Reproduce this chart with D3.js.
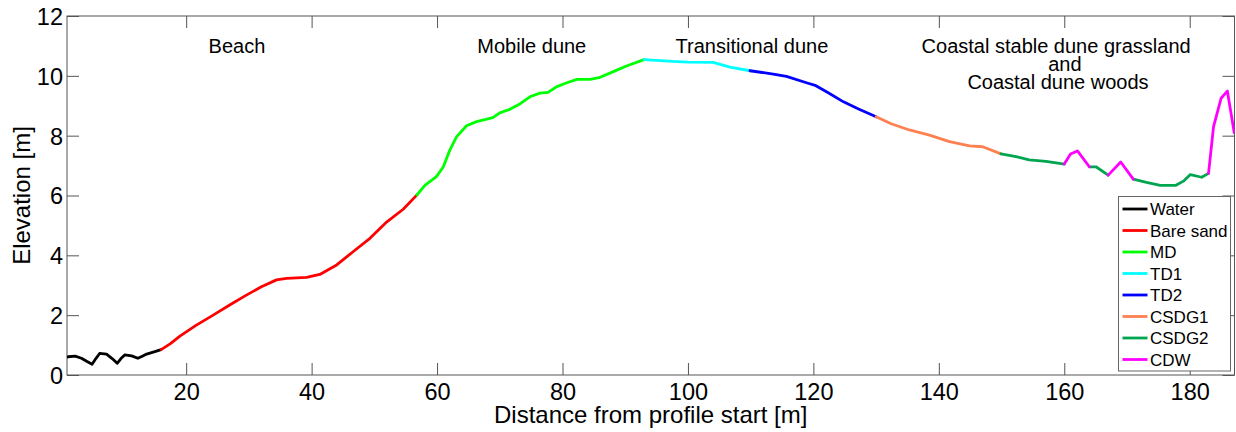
<!DOCTYPE html>
<html><head><meta charset="utf-8">
<script src="https://cdn.jsdelivr.net/npm/d3@7"></script>
<style>
body{margin:0;background:#fff}
svg{display:block;font-family:"Liberation Sans",Arial,sans-serif}
</style>
</head><body>
<svg id="c" width="1236" height="432"></svg>
<script>
// ---- data (distance [m], elevation [m]) ----
const water = [[1.0,0.60],[1.2,0.61],[2.3,0.63],[3.3,0.56],[4.2,0.45],[5.0,0.36],[5.6,0.55],[6.2,0.72],[7.3,0.70],[8.2,0.55],[9.0,0.39],[9.6,0.55],[10.2,0.67],[11.3,0.64],[12.3,0.56],[13.0,0.63],[13.7,0.70],[15.0,0.78],[16.0,0.85]];
const bareSand = [[16.0,0.85],[17.5,1.05],[19.0,1.30],[21.5,1.65],[24.3,2.00],[27.0,2.35],[29.6,2.67],[32.0,2.95],[34.4,3.18],[36.0,3.23],[39.2,3.26],[41.3,3.36],[44.0,3.68],[46.6,4.12],[49.3,4.57],[52.0,5.12],[54.6,5.54],[56.8,6.02]];
const md = [[56.8,6.02],[58.1,6.35],[59.9,6.63],[61.0,6.96],[62.0,7.50],[63.1,7.96],[64.7,8.33],[66.3,8.47],[68.9,8.60],[70.0,8.76],[71.6,8.88],[73.2,9.06],[74.8,9.30],[76.4,9.42],[77.7,9.45],[79.1,9.64],[80.7,9.77],[82.3,9.88],[84.4,9.88],[86.0,9.95],[88.1,10.14],[90.2,10.33],[93.0,10.54]];
const td1 = [[93.0,10.54],[97.6,10.48],[100.0,10.46],[104.0,10.45],[106.7,10.29],[109.9,10.17]];
const td2 = [[109.9,10.17],[113.6,10.06],[115.7,9.98],[118.9,9.77],[120.4,9.67],[122.3,9.44],[124.8,9.13],[127.2,8.89],[130.0,8.63]];
const csdg1 = [[130.0,8.63],[132.4,8.40],[135.3,8.19],[138.5,8.02],[141.7,7.80],[144.9,7.66],[147.0,7.63],[149.9,7.39]];
const csdg2 = [[149.9,7.39],[152.3,7.30],[154.4,7.19],[157.1,7.14],[160.0,7.05],null,[164.0,6.96],[165.05,6.96],[167.0,6.68],null,[171.0,6.55],[173.1,6.44],[175.3,6.34],[177.8,6.34],[179.0,6.48],[180.1,6.70],[181.9,6.61],[183.0,6.74]];
const cdw = [[160.0,7.05],[161.0,7.39],[162.1,7.49],[164.0,6.96],null,[167.0,6.68],[169.0,7.12],[171.0,6.55],null,[183.0,6.74],[183.8,8.30],[185.0,9.25],[186.0,9.49],[187.1,8.10]];

const seriesNames = ["Water","Bare sand","MD","TD1","TD2","CSDG1","CSDG2","CDW"];
const seriesColors = ["#000000","#ff0000","#00ff00","#00ffff","#0000ff","#ff8050","#00a550","#ff00ff"];
const seriesData = [water, bareSand, md, td1, td2, csdg1, csdg2, cdw];

const xTicks = [20,40,60,80,100,120,140,160,180];
const yTicks = [0,2,4,6,8,10,12];
const xDomain = [1, 187.14];
const yDomain = [0, 12];

const zoneLabels = ["Beach","Mobile dune","Transitional dune","Coastal stable dune grassland","and","Coastal dune woods"];
const zoneX = [28.1, 75.1, 110.2, 158.7, 160.1, 159.0];
const zoneLine = [0, 0, 0, 0, 1, 2];

// ---- layout ----
const L = 67, T = 16, R = 1234.5, B = 375;
const svg = d3.select("#c");
const x = d3.scaleLinear().domain(xDomain).range([L, R]);
const y = d3.scaleLinear().domain(yDomain).range([B, T]);
const frameColor = "#555";
const tickLen = 12;

svg.append("defs").append("clipPath").attr("id","clip")
  .append("rect").attr("x",L).attr("y",T).attr("width",R-L).attr("height",B-T);

// ticks (inward, on all four sides)
const gx = svg.append("g").attr("transform",`translate(0,${B})`)
  .call(d3.axisBottom(x).tickValues(xTicks).tickSizeInner(-tickLen).tickSizeOuter(0).tickPadding(tickLen+10));
gx.select(".domain").remove();
gx.selectAll(".tick line").attr("stroke",frameColor);
gx.selectAll(".tick text").attr("font-size","23.5px").attr("fill","#000")
  .attr("font-family","'Liberation Sans',Arial,sans-serif").attr("dy","0").attr("y",25);

const gxt = svg.append("g").attr("transform",`translate(0,${T})`)
  .call(d3.axisTop(x).tickValues(xTicks).tickSizeInner(-tickLen).tickSizeOuter(0).tickFormat(""));
gxt.select(".domain").remove();
gxt.selectAll(".tick line").attr("stroke",frameColor);

const gy = svg.append("g").attr("transform",`translate(${L},0)`)
  .call(d3.axisLeft(y).tickValues(yTicks).tickSizeInner(-tickLen).tickSizeOuter(0));
gy.select(".domain").remove();
gy.selectAll(".tick line").attr("stroke",frameColor);
gy.selectAll(".tick text").attr("font-size","23.5px").attr("fill","#000")
  .attr("font-family","'Liberation Sans',Arial,sans-serif").attr("x",-4).attr("dy","0.36em");

const gyr = svg.append("g").attr("transform",`translate(${R},0)`)
  .call(d3.axisRight(y).tickValues(yTicks).tickSizeInner(-tickLen).tickSizeOuter(0).tickFormat(""));
gyr.select(".domain").remove();
gyr.selectAll(".tick line").attr("stroke",frameColor);

// frame
svg.append("rect").attr("x",L).attr("y",T).attr("width",R-L).attr("height",B-T)
  .attr("fill","none").attr("stroke",frameColor).attr("stroke-width",1);

// profile lines
const line = d3.line().defined(d => d !== null).x(d => x(d[0])).y(d => y(d[1]));
const gl = svg.append("g").attr("clip-path","url(#clip)");
seriesData.forEach((s,i) => {
  gl.append("path").attr("d", line(s)).attr("fill","none")
    .attr("stroke", seriesColors[i]).attr("stroke-width",2.8)
    .attr("stroke-linejoin","round").attr("stroke-linecap","round");
});

// zone labels
const baseY = y(11) + 7;
zoneLabels.forEach((t,i) => {
  svg.append("text").attr("x", x(zoneX[i])).attr("y", baseY + zoneLine[i]*18)
    .attr("text-anchor","middle").attr("font-size","20px").attr("fill","#000").text(t);
});

// axis titles
svg.append("text").attr("x",(L+R)/2).attr("y",422.5).attr("text-anchor","middle")
  .attr("font-size","24px").attr("fill","#000").text("Distance from profile start [m]");
svg.append("text").attr("transform",`translate(30,${(T+B)/2}) rotate(-90)`)
  .attr("text-anchor","middle").attr("font-size","24px").attr("fill","#000").text("Elevation [m]");

// legend
const lg = svg.append("g");
lg.append("rect").attr("x",1118.5).attr("y",196.5).attr("width",112).attr("height",174.5)
  .attr("fill","#fff").attr("stroke","#666").attr("stroke-width",1);
seriesNames.forEach((n,i) => {
  const cy = 209 + i*21.5;
  lg.append("line").attr("x1",1122.5).attr("x2",1147.5).attr("y1",cy).attr("y2",cy)
    .attr("stroke",seriesColors[i]).attr("stroke-width",2.8);
  lg.append("text").attr("x",1150).attr("y",cy+6).attr("font-size","17px").attr("fill","#000").text(n);
});
</script>
</body></html>
